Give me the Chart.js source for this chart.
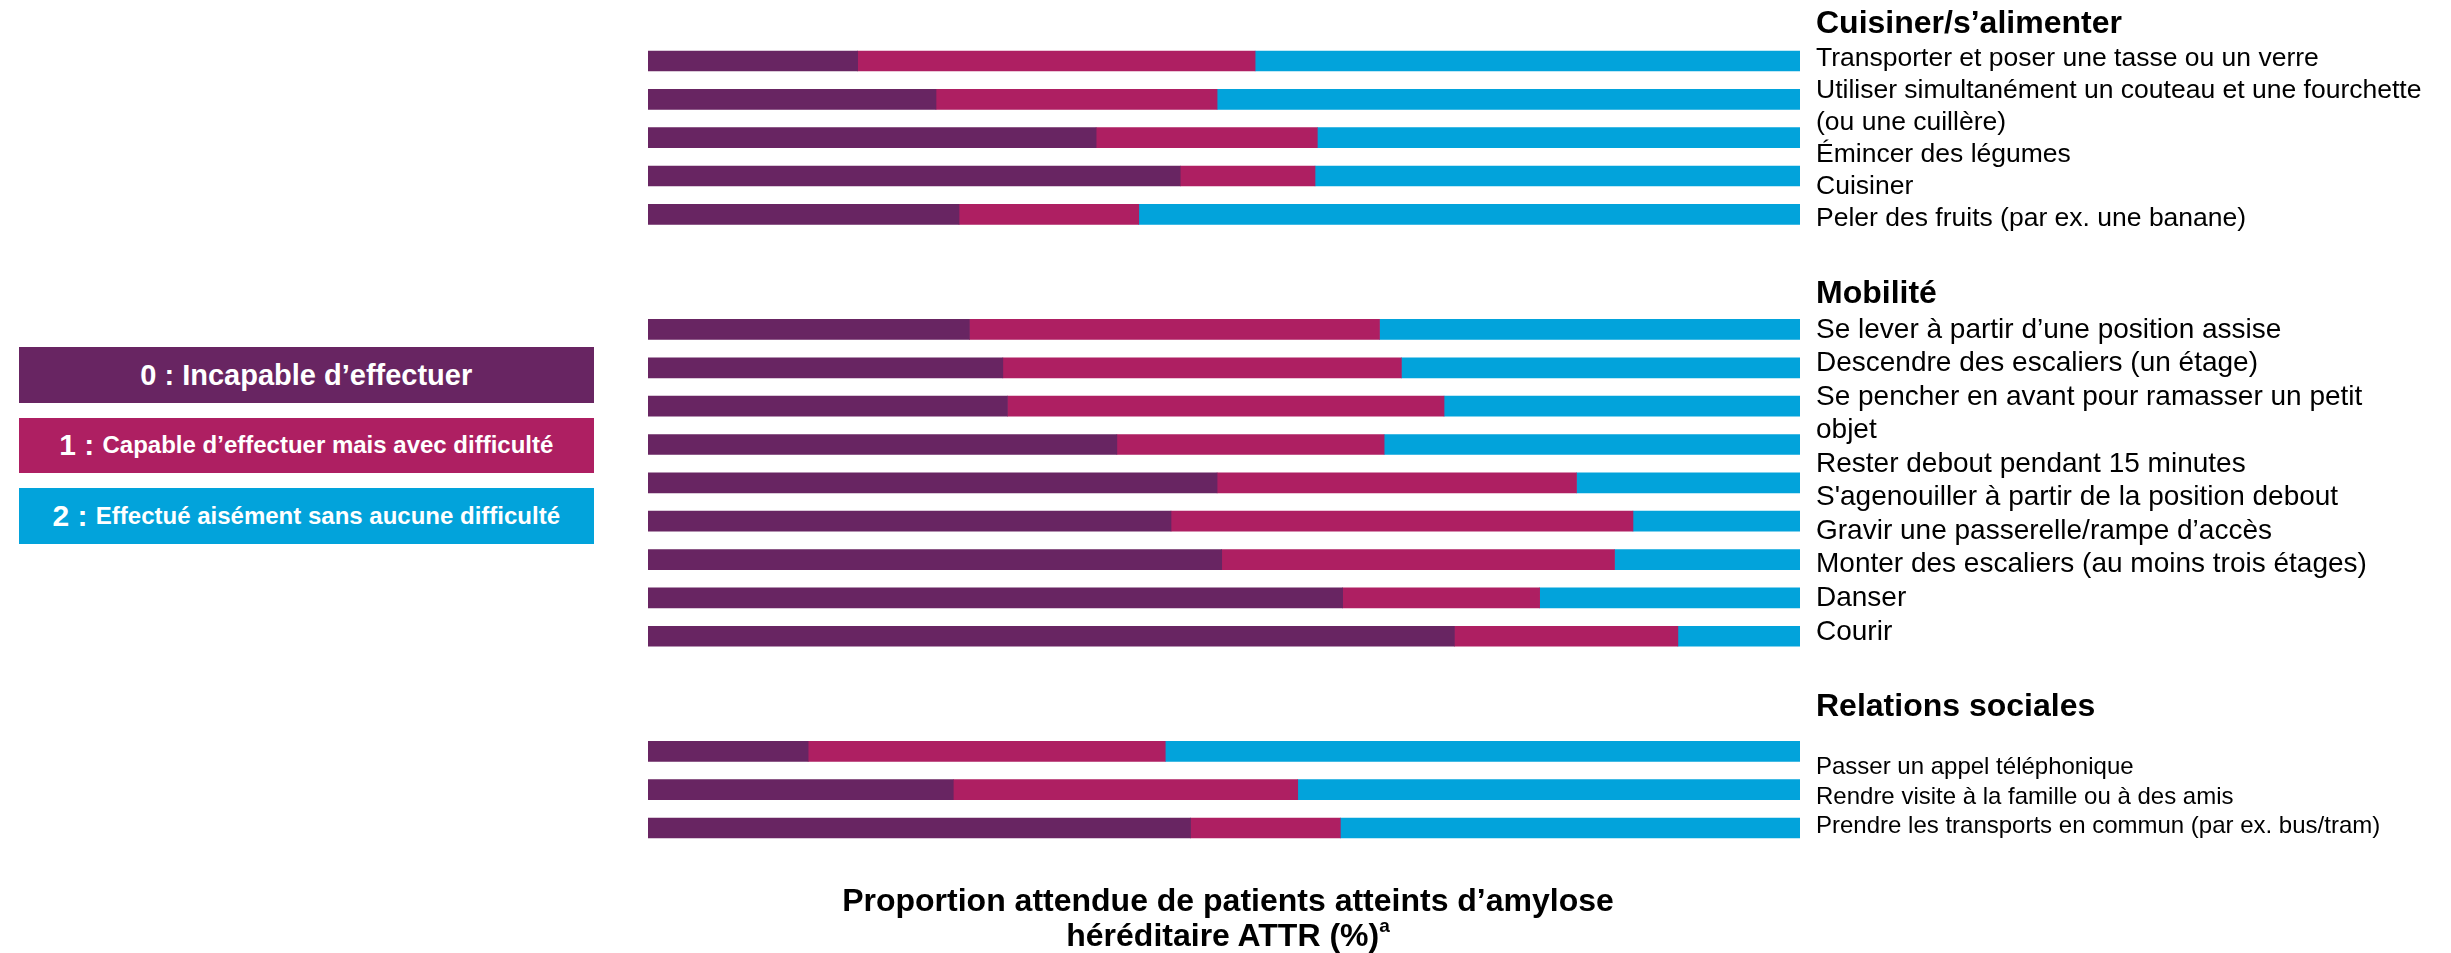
<!DOCTYPE html>
<html lang="fr">
<head>
<meta charset="utf-8">
<script src="https://cdn.jsdelivr.net/npm/chart.js@4/dist/chart.umd.min.js"></script>
<style>
html,body{margin:0;padding:0;background:#fff;}
body{width:2451px;height:953px;position:relative;overflow:hidden;font-family:"Liberation Sans",Arial,Helvetica,sans-serif;color:#000;}
#c{position:absolute;left:0;top:0;}
.abs{position:absolute;white-space:nowrap;}
.hd{left:1816px;font-weight:bold;font-size:32px;line-height:32px;}
.lines{left:1816px;}
.leg{position:absolute;left:18.5px;width:575.5px;display:flex;align-items:center;justify-content:center;color:#fff;font-weight:bold;white-space:nowrap;}
.num{font-size:30px;}
.big{font-size:29px;}
.txt{font-size:24px;}
#title{left:628px;width:1200px;top:883.2px;text-align:center;font-weight:bold;font-size:32px;line-height:34.4px;white-space:normal;}
#title sup{font-size:19px;line-height:0;vertical-align:0.75em;}
</style>
</head>
<body>
<canvas id="c" width="2451" height="953"></canvas>
<div id="labels"></div>
<div id="legend"></div>
<div id="title" class="abs"></div>
<script>
// ---- Data ----
const groupTitles = ['Cuisiner/s\u2019alimenter', 'Mobilit\u00e9', 'Relations sociales'];

const cuisinerLabels = [
  ['Transporter et poser une tasse ou un verre'],
  ['Utiliser simultan\u00e9ment un couteau et une fourchette', '(ou une cuill\u00e8re)'],
  ['\u00c9mincer des l\u00e9gumes'],
  ['Cuisiner'],
  ['Peler des fruits (par ex. une banane)']
];
const mobiliteLabels = [
  ['Se lever \u00e0 partir d\u2019une position assise'],
  ['Descendre des escaliers (un \u00e9tage)'],
  ['Se pencher en avant pour ramasser un petit', 'objet'],
  ['Rester debout pendant 15 minutes'],
  ['S\'agenouiller \u00e0 partir de la position debout'],
  ['Gravir une passerelle/rampe d\u2019acc\u00e8s'],
  ['Monter des escaliers (au moins trois \u00e9tages)'],
  ['Danser'],
  ['Courir']
];
const relationsLabels = [
  ['Passer un appel t\u00e9l\u00e9phonique'],
  ['Rendre visite \u00e0 la famille ou \u00e0 des amis'],
  ['Prendre les transports en commun (par ex. bus/tram)']
];

// values in % : 0 = incapable, 1 = avec difficulté, 2 = aisément
const cuisiner0 = [18.2, 25.0, 38.9, 46.2, 27.0];
const cuisiner1 = [34.5, 24.4, 19.2, 11.7, 15.6];
const cuisiner2 = [47.3, 50.6, 41.9, 42.1, 57.4];

const mobilite0 = [27.9, 30.8, 31.2, 40.7, 49.4, 45.4, 49.8, 60.3, 70.0];
const mobilite1 = [35.6, 34.6, 37.9, 23.2, 31.2, 40.1, 34.1, 17.1, 19.4];
const mobilite2 = [36.5, 34.6, 30.9, 36.1, 19.4, 14.5, 16.1, 22.6, 10.6];

const relations0 = [13.9, 26.5, 47.1];
const relations1 = [31.0, 29.9, 13.0];
const relations2 = [55.1, 43.6, 39.9];

const seriesNums = ['0 :', '1 :', '2 :'];
const seriesNames = ['Incapable d\u2019effectuer', 'Capable d\u2019effectuer mais avec difficult\u00e9', 'Effectu\u00e9 ais\u00e9ment sans aucune difficult\u00e9'];
const seriesColors = ['#682562', '#AE1F62', '#02A3DB'];

const titleLine1 = 'Proportion attendue de patients atteints d\u2019amylose';
const titleLine2 = 'h\u00e9r\u00e9ditaire ATTR (%)';
const titleSup = 'a';

// ---- Build chart table (two empty slots between groups) ----
const gapLabels = ['', ''];
const gapVals = [null, null];
const labels = [...cuisinerLabels, ...gapLabels, ...mobiliteLabels, ...gapLabels, ...relationsLabels];
const d0 = [...cuisiner0, ...gapVals, ...mobilite0, ...gapVals, ...relations0];
const d1 = [...cuisiner1, ...gapVals, ...mobilite1, ...gapVals, ...relations1];
const d2 = [...cuisiner2, ...gapVals, ...mobilite2, ...gapVals, ...relations2];

const mk = (i, data) => ({
  label: seriesNums[i] + ' ' + seriesNames[i],
  data: data,
  backgroundColor: seriesColors[i],
  borderWidth: 0,
  barThickness: 20
});

new Chart(document.getElementById('c').getContext('2d'), {
  type: 'bar',
  data: { labels: labels, datasets: [mk(0, d0), mk(1, d1), mk(2, d2)] },
  options: {
    indexAxis: 'y',
    responsive: false,
    animation: false,
    devicePixelRatio: 1,
    layout: { padding: { left: 648, right: 651, top: 41.8, bottom: 105.8 } },
    plugins: { legend: { display: false }, tooltip: { enabled: false } },
    scales: {
      x: { stacked: true, min: 0, max: 100, display: false },
      y: { stacked: true, display: false }
    }
  }
});

// ---- Right-hand text labels ----
const labelsDiv = document.getElementById('labels');
function addHeader(text, top) {
  const d = document.createElement('div');
  d.className = 'abs hd';
  d.style.top = top + 'px';
  d.textContent = text;
  labelsDiv.appendChild(d);
}
function addLines(items, top, size, lh) {
  const d = document.createElement('div');
  d.className = 'abs lines';
  d.style.top = top + 'px';
  d.style.fontSize = size + 'px';
  d.style.lineHeight = lh + 'px';
  items.forEach(lines => lines.forEach(line => {
    const l = document.createElement('div');
    l.textContent = line;
    d.appendChild(l);
  }));
  labelsDiv.appendChild(d);
}
addHeader(groupTitles[0], 5.9);
addLines(cuisinerLabels, 41.3, 26.5, 32);
addHeader(groupTitles[1], 275.9);
addLines(mobiliteLabels, 311.5, 28, 33.56);
addHeader(groupTitles[2], 689.4);
addLines(relationsLabels, 751, 24, 29.5);

// ---- Legend boxes ----
const legendDiv = document.getElementById('legend');
const legTops = [347, 417.5, 488];
const legHeights = [56, 55.5, 55.5];
seriesNames.forEach((name, i) => {
  const b = document.createElement('div');
  b.className = 'leg';
  b.style.top = legTops[i] + 'px';
  b.style.height = legHeights[i] + 'px';
  b.style.background = seriesColors[i];
  const n = document.createElement('span');
  n.className = i === 0 ? 'big' : 'num';
  n.textContent = seriesNums[i] + '\u00a0';
  const t = document.createElement('span');
  t.className = i === 0 ? 'big' : 'txt';
  t.textContent = name;
  b.appendChild(n); b.appendChild(t);
  legendDiv.appendChild(b);
});

// ---- Axis title ----
const title = document.getElementById('title');
title.appendChild(document.createTextNode(titleLine1));
title.appendChild(document.createElement('br'));
title.appendChild(document.createTextNode(titleLine2));
const sup = document.createElement('sup');
sup.textContent = titleSup;
title.appendChild(sup);
</script>
</body>
</html>
